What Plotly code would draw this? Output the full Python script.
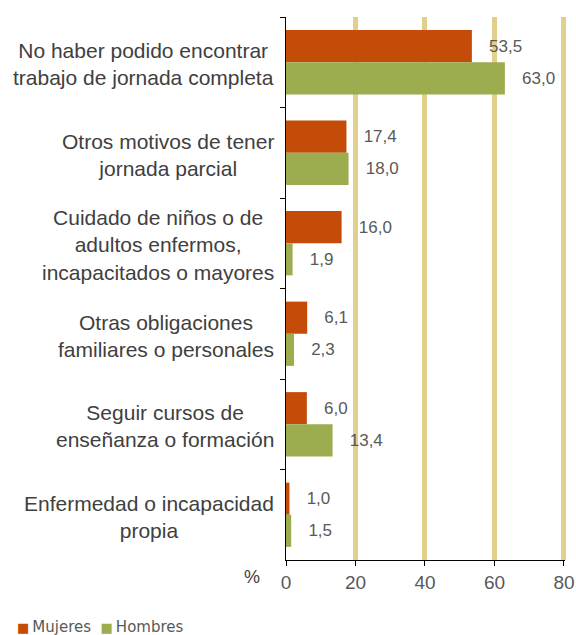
import plotly.graph_objects as go

categories = [
    "No haber podido encontrar<br>trabajo de jornada completa",
    "Otros motivos de tener<br>jornada parcial",
    "Cuidado de niños o de<br>adultos enfermos,<br>incapacitados o mayores",
    "Otras obligaciones<br>familiares o personales",
    "Seguir cursos de<br>enseñanza o formación",
    "Enfermedad o incapacidad<br>propia",
]
mujeres = [53.5, 17.4, 16.0, 6.1, 6.0, 1.0]
hombres = [63.0, 18.0, 1.9, 2.3, 13.4, 1.5]
series_names = ["Mujeres", "Hombres"]
series_colors = ["#C54B08", "#9CAD4F"]
x_ticks = [0, 20, 40, 60, 80]

FONT = "Liberation Sans, Arial, sans-serif"
L, R, T, B = 286, 11, 17, 75
W, H = 576, 635
PW, PH = W - L - R, H - T - B

fig = go.Figure()
for name, vals, col in zip(series_names, [mujeres, hombres], series_colors):
    fig.add_trace(go.Bar(
        y=categories, x=vals, orientation="h", name=name,
        marker=dict(color=col, line=dict(width=0)),
        texttemplate="   %{x:.1f}", textposition="outside", cliponaxis=False,
        textfont=dict(family=FONT, size=17, color="#595959"),
    ))

annotations = []
for i, c in enumerate(categories):
    annotations.append(dict(
        x=-10 / PW, xref="paper", y=i, yref="y", yshift=-2, text=c, showarrow=False,
        xanchor="right", yanchor="middle", align="center",
        font=dict(family=FONT, size=21, color="#404040"),
    ))
annotations.append(dict(
    x=(252 - L) / PW, xref="paper", y=-17 / PH, yref="paper", text="%", showarrow=False,
    xanchor="center", yanchor="middle", font=dict(family=FONT, size=18, color="#404040"),
))
legend_text = "  ".join(
    f"<span style='font-size:13px;color:{c}'>■</span>&#8201;{n}"
    for n, c in zip(series_names, series_colors)
)
annotations.append(dict(
    x=(15 - L) / PW, xref="paper", y=-67 / PH, yref="paper", text=legend_text,
    showarrow=False, xanchor="left", yanchor="middle",
    font=dict(family="DejaVu Sans, sans-serif", size=15, color="#595959"),
))

fig.update_layout(
    width=W, height=H,
    margin=dict(l=L, r=R, t=T, b=B),
    plot_bgcolor="white", paper_bgcolor="white",
    barmode="group", bargap=0.29, bargroupgap=0,
    separators=",.",
    font=dict(family=FONT),
    showlegend=False,
    annotations=annotations,
)
fig.update_xaxes(
    range=[0, 80.3], tickvals=x_ticks, showgrid=True, gridcolor="#E3CF8C",
    gridwidth=5, zeroline=False, showline=True, linecolor="black", linewidth=1,
    ticks="outside", ticklen=5, tickcolor="black", automargin=False,
    tickfont=dict(family=FONT, size=19, color="#595959"),
)
fig.update_yaxes(
    autorange="reversed", showticklabels=False, showgrid=False, zeroline=False,
    showline=True, linecolor="black", linewidth=1, automargin=False,
    ticks="outside", tickson="boundaries", ticklen=5, tickcolor="black",
)
fig.write_html(
    "out.html",
    config={"displayModeBar": False},
    post_script="document.body.style.margin='0';document.body.style.overflow='hidden';",
)
